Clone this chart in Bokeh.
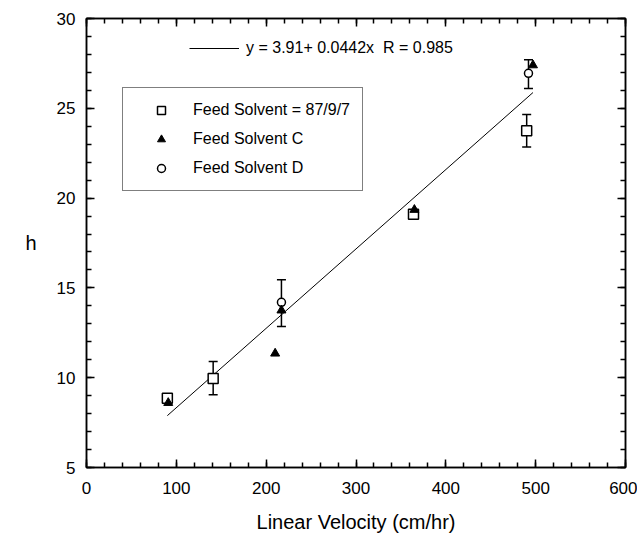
from bokeh.plotting import figure
from bokeh.models import (ColumnDataSource, Whisker, TeeHead, Legend, LegendItem,
                          LinearAxis, SingleIntervalTicker, CustomJSTickFormatter, Range1d)
from bokeh.embed import file_html
from bokeh.resources import INLINE

# ---- data ----
sq_x = [90, 141, 364, 490]
sq_h = [8.85, 9.95, 19.1, 23.75]
sq_err_x = [141, 490]
sq_err_lo = [9.05, 22.85]
sq_err_hi = [10.9, 24.65]

tri_x = [91, 210, 217, 365, 497]
tri_h = [8.6, 11.35, 13.75, 19.35, 27.4]

cir_x = [217, 492]
cir_h = [14.2, 26.95]
cir_err_lo = [12.85, 26.1]
cir_err_hi = [15.45, 27.7]

fit_a = 3.91
fit_b = 0.0442
fit_x = [90, 497]
fit_y = [fit_a + fit_b * v for v in fit_x]

labels = ["Feed Solvent = 87/9/7", "Feed Solvent C", "Feed Solvent D"]
fit_label = "y = 3.91+ 0.0442x  R = 0.985"
x_title = "Linear Velocity (cm/hr)"
y_title = "h"

FONT = "Liberation Sans"

p = figure(width=637, height=535, output_backend="svg", toolbar_location=None,
           x_range=Range1d(0, 600), y_range=Range1d(5, 30),
           min_border_left=86, min_border_right=12, min_border_top=18, min_border_bottom=67)
p.xgrid.visible = False
p.ygrid.visible = False
p.outline_line_color = "black"
p.outline_line_width = 1.5
p.background_fill_color = "white"
p.border_fill_color = "white"

xt = SingleIntervalTicker(interval=100, num_minor_ticks=5)
yt = SingleIntervalTicker(interval=5, num_minor_ticks=5)

def style_axis(ax):
    ax.axis_line_color = "black"
    ax.axis_line_width = 1.5
    ax.major_tick_in = 8
    ax.major_tick_out = 0
    ax.minor_tick_in = 5
    ax.minor_tick_out = 0
    ax.major_tick_line_width = 1.5
    ax.minor_tick_line_width = 1.5
    ax.major_tick_line_color = "black"
    ax.minor_tick_line_color = "black"
    ax.major_label_text_font = FONT
    ax.major_label_text_font_size = "17px"
    ax.major_label_text_color = "black"
    ax.axis_label_text_font = FONT
    ax.axis_label_text_font_size = "20px"
    ax.axis_label_text_font_style = "normal"
    ax.axis_label_text_color = "black"

xa = p.xaxis[0]
xa.ticker = xt
style_axis(xa)
xa.major_label_standoff = 14
xa.axis_label = x_title
xa.axis_label_standoff = 14

ya = p.yaxis[0]
ya.ticker = yt
style_axis(ya)
ya.major_label_standoff = 11
ya.axis_label = y_title
ya.axis_label_orientation = "horizontal"
ya.axis_label_standoff = 17

empty = CustomJSTickFormatter(code="return ''")
top = LinearAxis(ticker=SingleIntervalTicker(interval=100, num_minor_ticks=5), formatter=empty)
style_axis(top)
top.major_label_standoff = 0
p.add_layout(top, "above")
right = LinearAxis(ticker=SingleIntervalTicker(interval=5, num_minor_ticks=5), formatter=empty)
style_axis(right)
right.major_label_standoff = 0
p.add_layout(right, "right")

# fit line
fit_r = p.line(fit_x, fit_y, line_color="black", line_width=1)

# error bars
sq_err = ColumnDataSource(dict(x=sq_err_x, lo=sq_err_lo, hi=sq_err_hi))
cir_err = ColumnDataSource(dict(x=cir_x, lo=cir_err_lo, hi=cir_err_hi))
for src in (sq_err, cir_err):
    w = Whisker(base="x", lower="lo", upper="hi", source=src, dimension="height",
                line_color="black", line_width=1.5,
                upper_head=TeeHead(size=9, line_width=1.5, line_color="black"),
                lower_head=TeeHead(size=9, line_width=1.5, line_color="black"))
    p.add_layout(w)

sq_r = p.scatter(sq_x, sq_h, marker="square", size=10, fill_color="white",
                 line_color="black", line_width=1.5)
cir_r = p.scatter(cir_x, cir_h, marker="circle", size=8, fill_color="white",
                  line_color="black", line_width=1.5)
tri_r = p.scatter(tri_x, tri_h, marker="triangle", size=9, fill_color="black",
                  line_color="black", line_width=1)

leg = Legend(items=[LegendItem(label=labels[0], renderers=[sq_r]),
                    LegendItem(label=labels[1], renderers=[tri_r]),
                    LegendItem(label=labels[2], renderers=[cir_r])],
             location=(36, 276), glyph_width=52, glyph_height=20, label_height=20,
             spacing=9, padding=12, margin=0, label_standoff=6,
             label_text_font=FONT, label_text_font_size="16px", label_text_color="black",
             border_line_color="black", border_line_width=1.2,
             background_fill_color="white", background_fill_alpha=1)
p.add_layout(leg, "center")

leg2 = Legend(items=[LegendItem(label=fit_label, renderers=[fit_r])],
              location=(103, 409), glyph_width=50, glyph_height=20, label_height=20,
              padding=0, margin=0, label_standoff=7,
              label_text_font=FONT, label_text_font_size="16px", label_text_color="black",
              border_line_color=None, background_fill_alpha=0)
p.add_layout(leg2, "center")

open("out.html", "w").write(file_html(p, INLINE))
